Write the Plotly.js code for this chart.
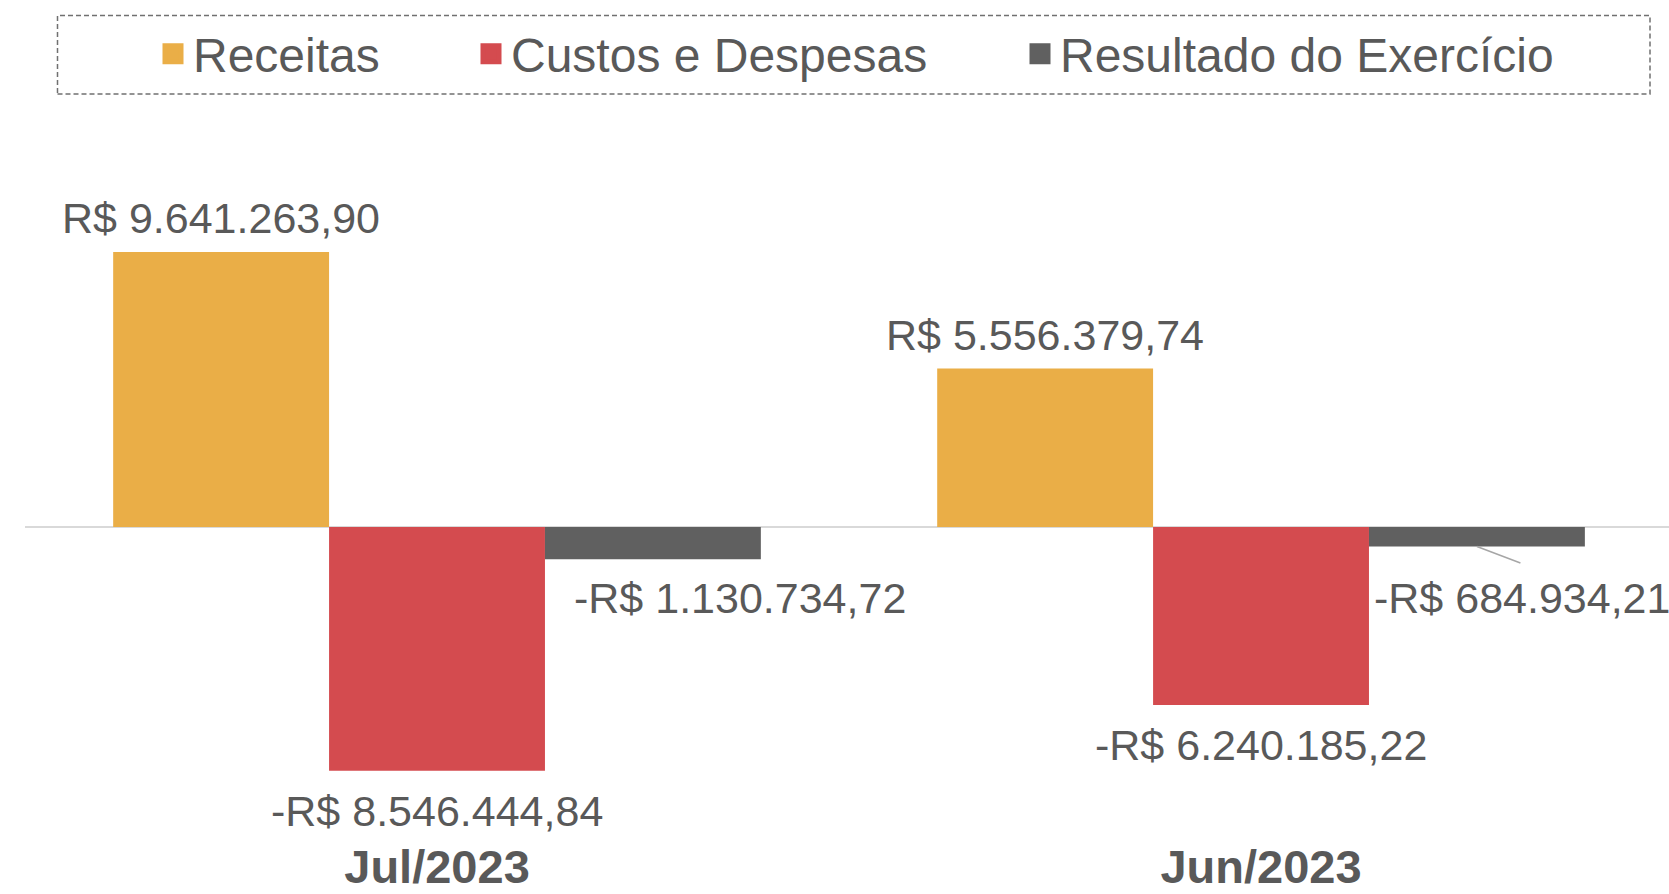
<!DOCTYPE html>
<html>
<head>
<meta charset="utf-8">
<script src="https://cdn.plot.ly/plotly-3.0.1.min.js"></script>
<style>html,body{margin:0;padding:0;background:#fff;}#chart{width:1669px;height:894px;}</style>
</head>
<body>
<div id="chart"></div>
<script>
// ---- data ----
const categories = ['Jul/2023', 'Jun/2023'];
const seriesNames = ['Receitas', 'Custos e Despesas', 'Resultado do Exercício'];
const receitas = [9641263.90, 5556379.74];
const custos = [-8546444.84, -6240185.22];
const resultado = [-1130734.72, -684934.21];

// ---- style ----
const colors = ['#EAAE47', '#D44B4F', '#606060'];
const textColor = '#595959';
const FONT = '"Liberation Sans", Arial, sans-serif';

function brl(v) {
  const neg = v < 0;
  const parts = Math.abs(v).toFixed(2).split('.');
  const intPart = parts[0].replace(/\B(?=(\d{3})+(?!\d))/g, '.');
  return (neg ? '-' : '') + 'R$ ' + intPart + ',' + parts[1];
}

const seriesValues = [receitas, custos, resultado];
const legendIds = ['legend', 'legend2', 'legend3'];

const traces = [];
seriesValues.forEach((vals, i) => {
  traces.push({
    type: 'bar', name: seriesNames[i], x: categories, y: vals,
    marker: {color: colors[i]}, showlegend: false, hoverinfo: 'none'
  });
});
// legend entries (larger squares)
seriesNames.forEach((n, i) => {
  traces.push({
    type: 'scatter', mode: 'markers', name: n, x: [null], y: [null],
    legend: legendIds[i],
    marker: {symbol: 'square', size: 16, color: colors[i], line: {width: 5, color: colors[i]}},
    showlegend: true, hoverinfo: 'none'
  });
});

const bargap = 0.214;
const barW = (1 - bargap) / 3;
const offsets = [-barW, 0, barW];
// label placement per series: [xshift, yshift] (positive values above, negative below)
const labelShift = {
  0: [[0, 34], [0, 34]],
  1: [[0, -40], [0, -40]],
  2: [[87, -39], [45, -51]]
};

const annotations = [];
seriesValues.forEach((vals, s) => {
  vals.forEach((v, c) => {
    const sh = labelShift[s][c];
    annotations.push({
      x: c + offsets[s], y: v, xref: 'x', yref: 'y',
      text: brl(v), showarrow: false,
      xanchor: 'center', yanchor: 'middle',
      xshift: sh[0], yshift: sh[1],
      font: {family: FONT, size: 43, color: textColor}
    });
  });
});
// leader line for Jun Resultado label
annotations.push({
  x: 1 + offsets[2], y: resultado[1], xref: 'x', yref: 'y',
  text: '', showarrow: true, arrowhead: 0, arrowwidth: 1.5, arrowcolor: '#A6A6A6',
  ax: 45, ay: 17, standoff: 0, startstandoff: 0
});

function legendCfg(xpx) {
  return {
    orientation: 'h', xref: 'container', yref: 'container',
    x: xpx / 1669, y: 1 - 54 / 894, xanchor: 'left', yanchor: 'middle',
    bgcolor: 'rgba(0,0,0,0)', borderwidth: 0,
    font: {family: FONT, size: 48, color: textColor}
  };
}

const plotTop = 100, plotBottom = 835, H = 894;
const pxPerUnit = 28.52 / 1e6;
const zeroY = 527;

const layout = {
  width: 1669, height: 894,
  margin: {l: 25, r: 0, t: plotTop, b: H - plotBottom, autoexpand: false},
  paper_bgcolor: '#ffffff', plot_bgcolor: '#ffffff',
  barmode: 'group', bargap: bargap, bargroupgap: 0,
  font: {family: FONT, color: textColor},
  xaxis: {
    type: 'category', range: [-0.5, 1.4951], showgrid: false, showline: false,
    ticks: '', zeroline: false, automargin: false,
    tickfont: {family: FONT, size: 47, color: textColor, weight: 'bold'}
  },
  yaxis: {
    range: [-(plotBottom - zeroY) / pxPerUnit, (zeroY - plotTop) / pxPerUnit],
    showgrid: false, showline: false, showticklabels: false, ticks: '',
    zeroline: true, zerolinecolor: '#D9D9D9', zerolinewidth: 2, automargin: false
  },
  legend: legendCfg(153),
  legend2: legendCfg(471),
  legend3: legendCfg(1020),
  shapes: [{
    type: 'rect', xref: 'paper', yref: 'paper',
    x0: (57.5 - 25) / 1644, x1: (1650 - 25) / 1644,
    y0: (plotBottom - 94) / (plotBottom - plotTop), y1: (plotBottom - 15.5) / (plotBottom - plotTop),
    line: {color: '#707070', width: 1.5, dash: '5px,3px'}, fillcolor: 'rgba(0,0,0,0)'
  }],
  annotations: annotations
};

Plotly.newPlot('chart', traces, layout, {displayModeBar: false, staticPlot: true});
</script>
</body>
</html>
